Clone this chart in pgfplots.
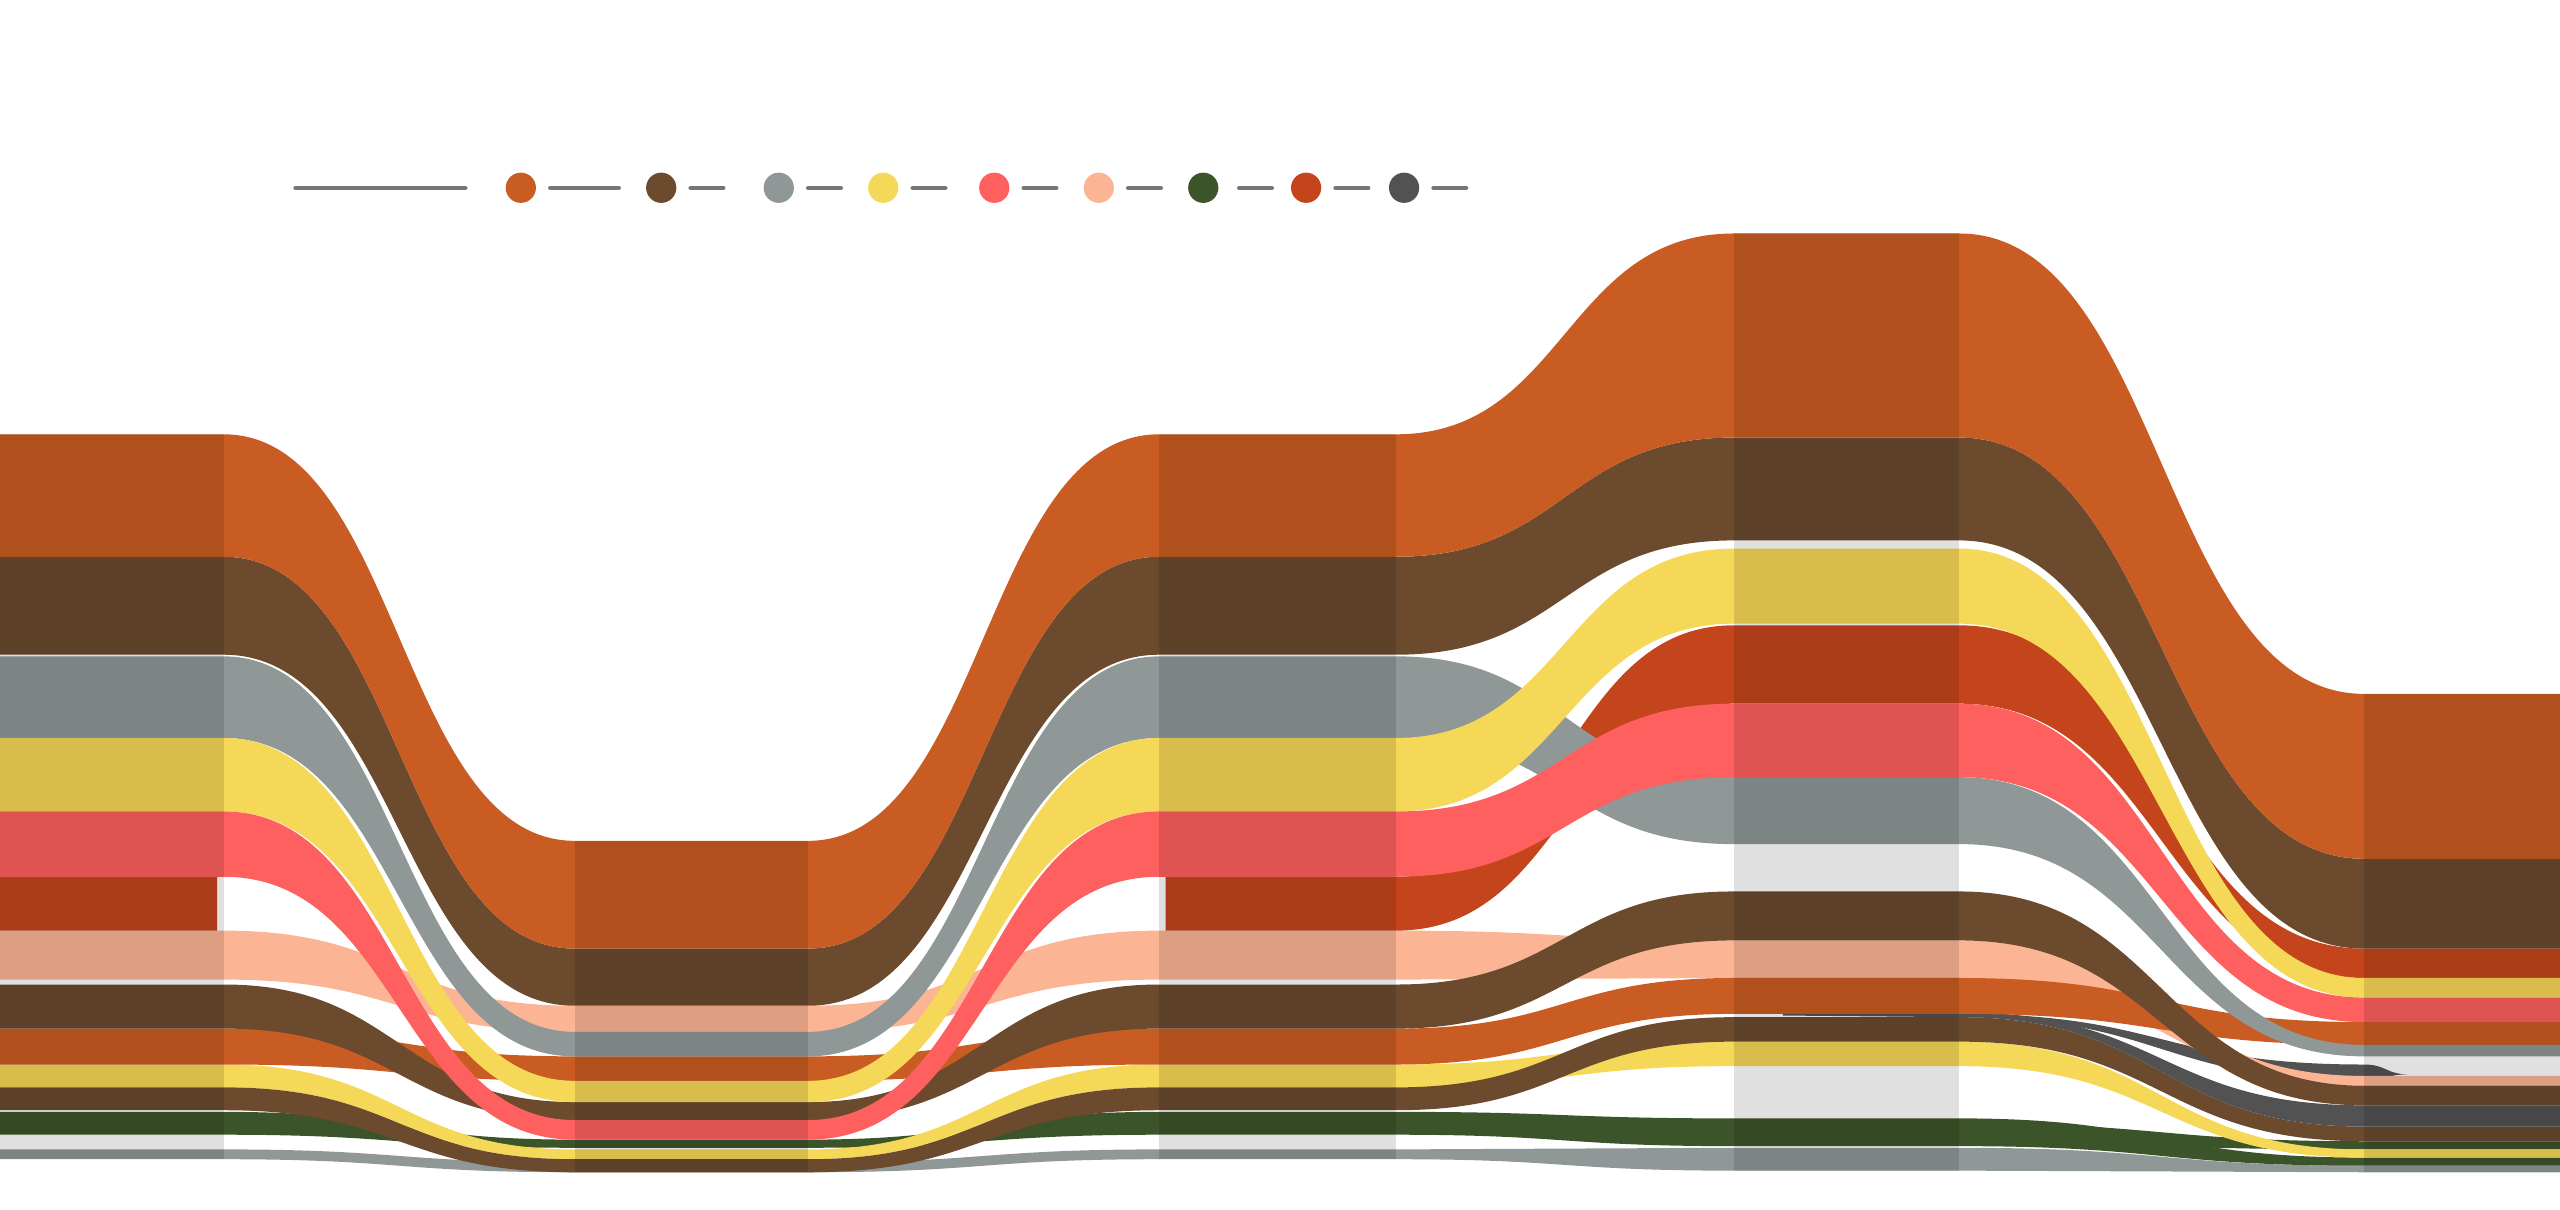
\documentclass[border=0pt]{standalone}
\usepackage{pgfplots}
\pgfplotsset{compat=1.18}
\makeatletter
% plot handler: horizontal-tangent links between consecutive points
\def\pgfplothandlersankey{%
  \def\pgf@plotstreamstart{%
    \global\let\pgf@plotstreampoint=\sk@firstpoint
    \global\let\pgf@plotstreamspecial=\@gobble
    \global\let\pgf@plotstreamend=\relax
  }%
}
\def\sk@firstpoint#1{%
  \pgf@process{#1}%
  \xdef\sk@px{\the\pgf@x}\xdef\sk@py{\the\pgf@y}%
  \ifx\pgf@plot@first@action\@undefined
    \pgfpathmoveto{\pgfqpoint{\sk@px}{\sk@py}}%
  \else
    \pgf@plot@first@action{\pgfqpoint{\sk@px}{\sk@py}}%
  \fi
  \global\let\pgf@plotstreampoint=\sk@nextpoint
}
\def\sk@nextpoint#1{%
  \pgf@process{#1}%
  \edef\sk@nx{\the\pgf@x}\edef\sk@ny{\the\pgf@y}%
  \pgf@xa=\sk@px\relax
  \advance\pgf@xa by \sk@nx\relax
  \pgf@xa=0.5\pgf@xa
  \edef\sk@mx{\the\pgf@xa}%
  \pgfpathcurveto{\pgfqpoint{\sk@mx}{\sk@py}}{\pgfqpoint{\sk@mx}{\sk@ny}}{\pgfqpoint{\sk@nx}{\sk@ny}}%
  \xdef\sk@px{\sk@nx}\xdef\sk@py{\sk@ny}%
}
\tikzset{sankey/.code={\let\tikz@plot@handler=\pgfplothandlersankey}}
\makeatother
\definecolor{cOr}{HTML}{C95C22}
\definecolor{cBr}{HTML}{6B4A2E}
\definecolor{cGy}{HTML}{8F9797}
\definecolor{cYe}{HTML}{F6D858}
\definecolor{cCo}{HTML}{FE605F}
\definecolor{cRo}{HTML}{C4451B}
\definecolor{cPe}{HTML}{FCB594}
\definecolor{cGr}{HTML}{3C5429}
\definecolor{cDg}{HTML}{525252}
\definecolor{cLg}{HTML}{76757A}
\pgfplotsset{rib/.style={draw=none, fill=#1, sankey},
  dot/.style={only marks, mark=*, color=#1, mark size=4.1pt, mark options={draw=#1, fill=#1}},
  dash/.style={cLg, line width=1.25pt, line cap=round}}
\begin{document}
\begin{tikzpicture}
\begin{axis}[scale only axis, width=25.6cm, height=12.098cm,
  xmin=0, xmax=1568, ymin=0, ymax=741, y dir=reverse,
  hide axis, clip=true]
% gray2
\addplot[rib=cGy] coordinates {(-10,704)(137,704)(352,712)(495,712)(710,704)(855,704)(1062,703)(1200,703)(1448,714)(1580,714)
 (1580,718)(1448,718)(1200,717)(1062,717)(855,710)(710,710)(495,718)(352,718)(137,710)(-10,710)} -- cycle;
% green2
\addplot[rib=cGr] coordinates {(1200,688)(1448,699)(1580,699)(1580,704)(1448,704)(1200,700)} -- cycle;
% green
\addplot[rib=cGr] coordinates {(-10,681)(137,681)(352,698)(495,698)(710,681)(855,681)(1062,685)(1200,685)(1448,709)(1580,709)
 (1580,714)(1448,714)(1200,702)(1062,702)(855,695)(710,695)(495,703)(352,703)(137,695)(-10,695)} -- cycle;
% yellow2
\addplot[rib=cYe] coordinates {(-10,652)(137,652)(352,704)(495,704)(710,652)(855,652)(1062,638)(1200,638)(1448,704)(1580,704)
 (1580,709)(1448,709)(1200,653)(1062,653)(855,666)(710,666)(495,710)(352,710)(137,666)(-10,666)} -- cycle;
% brown3
\addplot[rib=cBr] coordinates {(-10,666)(137,666)(352,710)(495,710)(710,666)(855,666)(1062,623)(1200,623)(1448,690)(1580,690)
 (1580,699)(1448,699)(1200,638)(1062,638)(855,680)(710,680)(495,718)(352,718)(137,680)(-10,680)} -- cycle;
% dark gray wedge
\addplot[rib=cDg] coordinates {(1200,621)(1448,652)(1475,658)(1448,662)(1200,623)} -- cycle;
% dark gray
\addplot[rib=cDg] coordinates {(1092,621)(1200,620)(1448,677)(1580,677)(1580,690)(1448,690)(1200,623)(1092,622)} -- cycle;
% peach
\addplot[rib=cPe] coordinates {(-10,570)(137,570)(352,616)(495,616)(710,570)(855,570)(1062,576)(1200,576)(1448,659)(1580,659)
 (1580,665)(1448,665)(1200,599)(1062,599)(855,600)(710,600)(495,632)(352,632)(137,600)(-10,600)} -- cycle;
% red-orange
\addplot[rib=cRo] coordinates {(-10,537)(133,537)(133,570)(-10,570)} -- cycle;
\addplot[rib=cRo] coordinates {(714,537)(855,537)(1062,383)(1200,383)(1448,581)(1580,581)
 (1580,599)(1448,599)(1200,431)(1062,431)(855,570)(714,570)} -- cycle;
% orange2
\addplot[rib=cOr] coordinates {(-10,630)(137,630)(352,647)(495,647)(710,630)(855,630)(1062,599)(1200,599)(1448,626)(1580,626)
 (1580,640)(1448,640)(1200,621)(1062,621)(855,652)(710,652)(495,662)(352,662)(137,652)(-10,652)} -- cycle;
% brown2
\addplot[rib=cBr] coordinates {(-10,603)(137,603)(352,675)(495,675)(710,603)(855,603)(1062,546)(1200,546)(1448,665)(1580,665)
 (1580,677)(1448,677)(1200,576)(1062,576)(855,630)(710,630)(495,686)(352,686)(137,630)(-10,630)} -- cycle;
% gray
\addplot[rib=cGy] coordinates {(-10,402)(137,402)(352,632)(495,632)(710,402)(855,402)(1062,476)(1200,476)(1448,640)(1580,640)
 (1580,647)(1448,647)(1200,517)(1062,517)(855,452)(710,452)(495,647)(352,647)(137,452)(-10,452)} -- cycle;
% brown
\addplot[rib=cBr] coordinates {(-10,341)(137,341)(352,581)(495,581)(710,341)(855,341)(1062,268)(1200,268)(1448,526)(1580,526)
 (1580,581)(1448,581)(1200,331)(1062,331)(855,401)(710,401)(495,616)(352,616)(137,401)(-10,401)} -- cycle;
% orange
\addplot[rib=cOr] coordinates {(-10,266)(137,266)(352,515)(495,515)(710,266)(855,266)(1062,143)(1200,143)(1448,425)(1580,425)
 (1580,526)(1448,526)(1200,268)(1062,268)(855,341)(710,341)(495,581)(352,581)(137,341)(-10,341)} -- cycle;
% yellow
\addplot[rib=cYe] coordinates {(-10,452)(137,452)(352,662)(495,662)(710,452)(855,452)(1062,336)(1200,336)(1448,599)(1580,599)
 (1580,611)(1448,611)(1200,382)(1062,382)(855,497)(710,497)(495,675)(352,675)(137,497)(-10,497)} -- cycle;
% coral
\addplot[rib=cCo] coordinates {(-10,497)(137,497)(352,686)(495,686)(710,497)(855,497)(1062,431)(1200,431)(1448,611)(1580,611)
 (1580,626)(1448,626)(1200,476)(1062,476)(855,537)(710,537)(495,698)(352,698)(137,537)(-10,537)} -- cycle;
% column overlays
\addplot[draw=none, fill=black, fill opacity=0.12] coordinates {(-10,266)(137,266)(137,710)(-10,710)} -- cycle;
\addplot[draw=none, fill=black, fill opacity=0.12] coordinates {(352,515)(495,515)(495,718)(352,718)} -- cycle;
\addplot[draw=none, fill=black, fill opacity=0.12] coordinates {(710,266)(855,266)(855,710)(710,710)} -- cycle;
\addplot[draw=none, fill=black, fill opacity=0.12] coordinates {(1062,143)(1200,143)(1200,717)(1062,717)} -- cycle;
\addplot[draw=none, fill=black, fill opacity=0.12] coordinates {(1448,425)(1580,425)(1580,718)(1448,718)} -- cycle;
% legend
\addplot[dash] coordinates {(181,115)(285,115)};
\addplot[dash] coordinates {(337,115)(379,115)};
\addplot[dash] coordinates {(423,115)(443,115)};
\addplot[dash] coordinates {(495,115)(515,115)};
\addplot[dash] coordinates {(559,115)(579,115)};
\addplot[dash] coordinates {(627,115)(647,115)};
\addplot[dash] coordinates {(691,115)(711,115)};
\addplot[dash] coordinates {(759,115)(779,115)};
\addplot[dash] coordinates {(818,115)(838,115)};
\addplot[dash] coordinates {(878,115)(898,115)};
\addplot[dot=cOr] coordinates {(319,115)};
\addplot[dot=cBr] coordinates {(405,115)};
\addplot[dot=cGy] coordinates {(477,115)};
\addplot[dot=cYe] coordinates {(541,115)};
\addplot[dot=cCo] coordinates {(609,115)};
\addplot[dot=cPe] coordinates {(673,115)};
\addplot[dot=cGr] coordinates {(737,115)};
\addplot[dot=cRo] coordinates {(800,115)};
\addplot[dot=cDg] coordinates {(860,115)};
\end{axis}
\pgfresetboundingbox
\path[use as bounding box] (0,0) rectangle (25.6cm,12.098cm);
\end{tikzpicture}
\end{document}
